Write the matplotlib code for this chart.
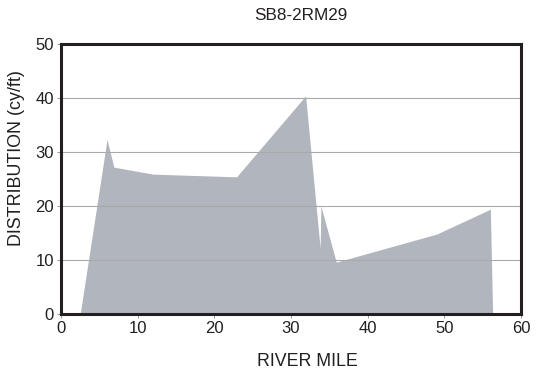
import matplotlib
matplotlib.use("Agg")
import matplotlib.pyplot as plt

plt.rcParams['font.family'] = ['Liberation Sans', 'DejaVu Sans']

river_mile = [2.5, 6.0, 6.9, 12.0, 22.9, 31.9, 33.8, 33.9, 35.9, 49.0, 56.0, 56.3]
distribution = [0.0, 32.3, 27.2, 25.9, 25.4, 40.4, 12.2, 20.0, 9.6, 14.8, 19.4, 0.0]

x_ticks = [0, 10, 20, 30, 40, 50, 60]
y_ticks = [0, 10, 20, 30, 40, 50]

fig = plt.figure(figsize=(5.36, 3.72), dpi=100)
ax = fig.add_axes([61/536, 1-314/372, 460/536, 270/372])

ax.fill_between(river_mile, distribution, 0, color='#b1b5bd', linewidth=0, zorder=2)
ax.set_xlim(0, 60)
ax.set_ylim(0, 50)
ax.set_xticks(x_ticks)
ax.set_yticks(y_ticks)
ax.yaxis.grid(True, color='#a9a9a9', linewidth=0.8, zorder=1)
ax.set_axisbelow(False)
for s in ax.spines.values():
    s.set_linewidth(2.2)
    s.set_color('#231f20')
    s.set_zorder(5)
ax.tick_params(direction='out', length=3, width=0.6, color='#888888',
               labelsize=12, labelcolor='#231f20', pad=2)
ax.set_xlabel('RIVER MILE', fontsize=12.8, color='#231f20', va='center')
ax.xaxis.set_label_coords((307 - 61) / 460, (314 - 362) / 270)
ax.set_ylabel('DISTRIBUTION (cy/ft)', fontsize=12.9, color='#231f20', va='center')
ax.yaxis.set_label_coords((17 - 61) / 460, (314 - 158) / 270)
fig.text(301/536, 1-16/372, 'SB8-2RM29', ha='center', va='center', fontsize=12.3, color='#231f20')

fig.savefig('out.png', dpi=100)
